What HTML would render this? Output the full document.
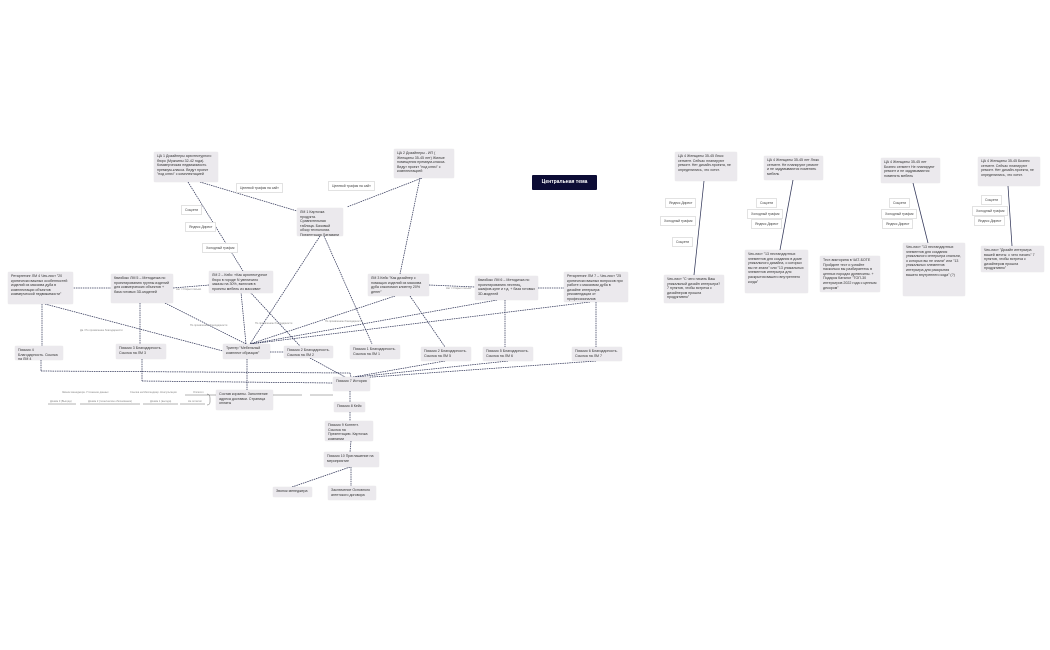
<!DOCTYPE html>
<html><head><meta charset="utf-8">
<style>
html,body{margin:0;padding:0;background:#fff;}
body{width:1050px;height:650px;position:relative;overflow:hidden;font-family:"Liberation Sans","Noto Sans CJK SC",sans-serif;}
.b{position:absolute;background:#ebe9ed;border-radius:1px;box-shadow:0 0 1px rgba(0,0,0,.15);font-size:3.6px;line-height:4.6px;color:#333;padding:2px 3px;box-sizing:border-box;overflow:hidden;}
.l{position:absolute;background:#fff;border:0.5px solid #e2e2e2;font-size:3.4px;line-height:4px;color:#444;padding:2px 3px;box-sizing:border-box;white-space:nowrap;}
.c{position:absolute;left:532px;top:175px;width:65px;height:15px;background:#0c0c35;border-radius:1px;color:#fff;font-weight:bold;font-size:5px;line-height:15px;text-align:center;}
.t{position:absolute;font-size:2.6px;color:#888;white-space:nowrap;}
svg{position:absolute;left:0;top:0;}
</style></head><body>
<svg width="1050" height="650" stroke="#33385a" stroke-width="0.75" fill="none">
<g stroke-dasharray="1.5,0.8">
<line x1="188" y1="182" x2="243" y2="271"/>
<line x1="200" y1="182" x2="297" y2="211"/>
<line x1="422" y1="178" x2="347" y2="207"/>
<line x1="420" y1="178" x2="400" y2="274"/>
<line x1="320" y1="236" x2="250" y2="344"/>
<line x1="324" y1="236" x2="372" y2="344"/>
<line x1="241" y1="292" x2="246" y2="344"/>
<line x1="250" y1="292" x2="300" y2="346"/>
<line x1="209" y1="285" x2="173" y2="288"/>
<line x1="112" y1="288" x2="73" y2="288"/>
<line x1="42" y1="304" x2="42" y2="346"/>
<line x1="140" y1="303" x2="140" y2="344"/>
<line x1="45" y1="304" x2="223" y2="351"/>
<line x1="165" y1="303" x2="246" y2="344"/>
<line x1="395" y1="296" x2="250" y2="344"/>
<line x1="410" y1="296" x2="445" y2="347"/>
<line x1="429" y1="285" x2="475" y2="287"/>
<line x1="538" y1="288" x2="564" y2="288"/>
<line x1="505" y1="300" x2="505" y2="347"/>
<line x1="497" y1="300" x2="250" y2="344"/>
<line x1="596" y1="302" x2="596" y2="347"/>
<line x1="590" y1="302" x2="250" y2="344"/>
<line x1="41" y1="360" x2="41" y2="371"/><line x1="41" y1="371" x2="350" y2="373"/><line x1="350" y1="373" x2="351" y2="377"/>
<line x1="142" y1="359" x2="142" y2="381"/><line x1="142" y1="381" x2="333" y2="383"/>
<line x1="247" y1="359" x2="247" y2="390"/>
<line x1="270" y1="352" x2="284" y2="352"/>
<line x1="310" y1="358" x2="345" y2="377"/>
<line x1="445" y1="361" x2="353" y2="377"/>
<line x1="508" y1="361" x2="356" y2="377"/>
<line x1="596" y1="361" x2="358" y2="378"/>
<line x1="350" y1="391" x2="350" y2="402"/>
<line x1="350" y1="412" x2="350" y2="421"/>
<line x1="351" y1="441" x2="350" y2="452"/>
<line x1="350" y1="467" x2="292" y2="487"/>
<line x1="351" y1="467" x2="351" y2="486"/>
</g>
<line x1="704" y1="181" x2="694" y2="275"/>
<line x1="793" y1="180" x2="780" y2="250"/>
<line x1="913" y1="183" x2="928" y2="243"/>
<line x1="1008" y1="186" x2="1012" y2="246"/>
<g stroke="#666" stroke-width="0.5">
<line x1="185" y1="395" x2="237" y2="395"/><line x1="252" y1="395" x2="302" y2="395"/><line x1="310" y1="395" x2="333" y2="395"/>
<line x1="48" y1="404" x2="76" y2="404"/><line x1="80" y1="404" x2="140" y2="404"/><line x1="143" y1="404" x2="178" y2="404"/><line x1="180" y1="404" x2="205" y2="404"/>
<path d="M207 394 q3 0 3 4 l0 4 q0 3 -3 3"/>
</g>
</svg>
<div class="c">Центральная тема</div>

<div class="b" style="left:154px;top:152px;width:64px;height:30px">ЦА 1 Дизайнеры архитектурного бюро (Мужчины 32-42 года). Коммерческая недвижимость премиум-класса. Ведут проект "под ключ" с комплектацией</div>
<div class="b" style="left:394px;top:149px;width:60px;height:29px">ЦА 2 Дизайнеры - ИП ( Женщины 35-45 лет) Жилые помещения премиум-класса. Ведут проект "под ключ" с комплектацией</div>
<div class="b" style="left:297px;top:208px;width:46px;height:28px">ЛМ 1 Карточка продукта. Сравнительная таблица. Базовый обзор технологии. Презентация Латамани</div>
<div class="b" style="left:209px;top:271px;width:64px;height:22px">ЛМ 2 – Кейс: «Как архитектурное бюро в городе N увеличило заказы на 30%, включив в проекты мебель из массива»</div>
<div class="b" style="left:111px;top:274px;width:62px;height:29px">Квизбокс ЛМ 5 – Методичка по проектированию группы изделий для коммерческих объектов + база готовых 3D-моделей</div>
<div class="b" style="left:8px;top:272px;width:65px;height:32px">Ретаргетинг ЛМ 4 Чек-лист "20 критически важных особенностей изделий из массива дуба в комплектации объектов коммерческой недвижимости"</div>
<div class="b" style="left:368px;top:274px;width:61px;height:22px">ЛМ 3 Кейс "Как дизайнер с помощью изделий из массива дуба сэкономил клиенту 20% денег"</div>
<div class="b" style="left:475px;top:276px;width:63px;height:24px">Квизбокс ЛМ 6 – Методичка по проектированию лестниц, шкафов-купе и т.д. + база готовых 3D-моделей</div>
<div class="b" style="left:564px;top:272px;width:64px;height:30px">Ретаргетинг ЛМ 7 – Чек-лист "25 критически важных вопросов при работе с массивом дуба в дизайне интерьера: рекомендации от профессионалов</div>

<div class="b" style="left:15px;top:346px;width:48px;height:14px">Письмо 4 Благодарность. Ссылка на ЛМ 4</div>
<div class="b" style="left:116px;top:344px;width:50px;height:15px">Письмо 3 Благодарность. Ссылка на ЛМ 3</div>
<div class="b" style="left:223px;top:344px;width:47px;height:15px">Триггер "Мебельный комплект образцов"</div>
<div class="b" style="left:284px;top:346px;width:49px;height:12px">Письмо 2 Благодарность. Ссылка на ЛМ 2</div>
<div class="b" style="left:350px;top:345px;width:50px;height:14px">Письмо 1 Благодарность. Ссылка на ЛМ 1</div>
<div class="b" style="left:421px;top:347px;width:50px;height:14px">Письмо 2 Благодарность. Ссылка на ЛМ 5</div>
<div class="b" style="left:483px;top:347px;width:50px;height:14px">Письмо 5 Благодарность. Ссылка на ЛМ 6</div>
<div class="b" style="left:572px;top:347px;width:50px;height:14px">Письмо 6 Благодарность. Ссылка на ЛМ 7</div>
<div class="b" style="left:333px;top:377px;width:37px;height:14px">Письмо 7 История</div>
<div class="b" style="left:216px;top:390px;width:57px;height:20px">Состав корзины. Заполнение адреса доставки. Страница оплаты</div>
<div class="b" style="left:334px;top:402px;width:31px;height:10px">Письмо 8 Кейс</div>
<div class="b" style="left:325px;top:421px;width:48px;height:20px">Письмо 9 Контент. Ссылка на Презентацию. Карточка компании</div>
<div class="b" style="left:324px;top:452px;width:55px;height:15px">Письмо 10 Приглашение на мероприятие</div>
<div class="b" style="left:273px;top:487px;width:39px;height:10px">Звонок менеджера</div>
<div class="b" style="left:328px;top:486px;width:48px;height:14px">Заключение Основного агентского договора</div>

<div class="l" style="left:236px;top:183px">Целевой трафик на сайт</div>
<div class="l" style="left:328px;top:181px">Целевой трафик на сайт</div>
<div class="l" style="left:181px;top:205px">Соцсети</div>
<div class="l" style="left:185px;top:222px">Яндекс Директ</div>
<div class="l" style="left:202px;top:243px">Холодный трафик</div>

<div class="t" style="left:62px;top:391px">Звонок менеджера. Уточнение данных</div>
<div class="t" style="left:130px;top:391px">Ссылка на Мессенджер. Консультация</div>
<div class="t" style="left:193px;top:391px">Оплатил</div>
<div class="t" style="left:50px;top:400px">Дожим 3 (Выгода)</div>
<div class="t" style="left:88px;top:400px">Дожим 2 (техническое обоснование)</div>
<div class="t" style="left:150px;top:400px">Дожим 1 (выгода)</div>
<div class="t" style="left:188px;top:400px">Не оплатил</div>
<div class="t" style="left:80px;top:329px">Да / По проявлению благодарности</div>
<div class="t" style="left:190px;top:324px">По проявлению благодарности</div>
<div class="t" style="left:255px;top:322px">По проявлению благодарности</div>
<div class="t" style="left:325px;top:320px">По проявлению благодарности</div>
<div class="t" style="left:176px;top:288px">Нет / Открыл письмо</div>
<div class="t" style="left:446px;top:287px">Нет / Открыл письмо</div>

<div class="b" style="left:675px;top:152px;width:62px;height:29px">ЦА 4 Женщины 35-45 Люкс сегмент. Сейчас планируют ремонт. Нет дизайн-проекта, не определились, что хотят.</div>
<div class="l" style="left:665px;top:198px">Яндекс Директ</div>
<div class="l" style="left:660px;top:216px">Холодный трафик</div>
<div class="l" style="left:672px;top:237px">Соцсети</div>
<div class="b" style="left:664px;top:275px;width:60px;height:28px">Чек-лист "С чего начать Ваш уникальный дизайн интерьера? 7 пунктов, чтобы встреча с дизайнером прошла продуктивно"</div>

<div class="b" style="left:764px;top:156px;width:59px;height:24px">ЦА 4 Женщины 35-45 лет Люкс сегмент. Не планируют ремонт и не задумываются поменять мебель</div>
<div class="l" style="left:756px;top:198px">Соцсети</div>
<div class="l" style="left:747px;top:209px">Холодный трафик</div>
<div class="l" style="left:751px;top:219px">Яндекс Директ</div>
<div class="b" style="left:745px;top:250px;width:63px;height:43px">Чек-лист "13 нестандартных элементов для создания в доме уникального дизайна, о которых вы не знали" или "13 уникальных элементов интерьера для раскрытия вашего внутреннего когда"</div>
<div class="b" style="left:820px;top:256px;width:60px;height:36px">Тест-викторина в ЧАТ-БОТЕ Пройдите тест и узнайте насколько вы разбираетесь в ценных породах древесины. + Подарок Каталог "ТОП-30 интерьеров 2022 года с ценным декором"</div>

<div class="b" style="left:881px;top:158px;width:59px;height:25px">ЦА 4 Женщины 35-45 лет Бизнес сегмент Не планируют ремонт и не задумываются поменять мебель</div>
<div class="l" style="left:889px;top:198px">Соцсети</div>
<div class="l" style="left:881px;top:209px">Холодный трафик</div>
<div class="l" style="left:882px;top:219px">Яндекс Директ</div>
<div class="b" style="left:903px;top:243px;width:62px;height:53px">Чек-лист "13 нестандартных элементов для создания уникального интерьера спальни, о которых вы не знали" или "13 уникальных элементов интерьера для раскрытия вашего внутреннего кода" (?)</div>

<div class="b" style="left:978px;top:157px;width:62px;height:29px">ЦА 4 Женщины 35-45 Бизнес сегмент. Сейчас планируют ремонт. Нет дизайн-проекта, не определились, что хотят.</div>
<div class="l" style="left:981px;top:195px">Соцсети</div>
<div class="l" style="left:972px;top:206px">Холодный трафик</div>
<div class="l" style="left:974px;top:216px">Яндекс Директ</div>
<div class="b" style="left:981px;top:246px;width:63px;height:26px">Чек-лист "Дизайн интерьера вашей мечты: с чего начать" 7 пунктов, чтобы встреча с дизайнером прошла продуктивно"</div>
</body></html>
